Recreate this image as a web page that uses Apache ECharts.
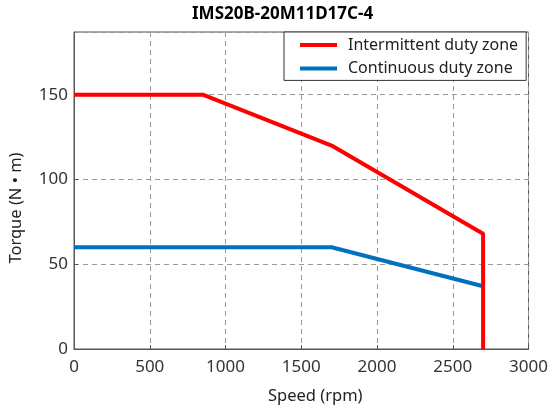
<!DOCTYPE html>
<html>
<head>
<meta charset="utf-8">
<script src="https://cdn.jsdelivr.net/npm/echarts@6/dist/echarts.min.js"></script>
<style>
  html, body { margin: 0; padding: 0; background: #fff; }
  #chart { width: 551px; height: 410px; }
</style>
</head>
<body>
<div id="chart"></div>
<script>
  // 数据：转速 (rpm) / 扭矩 (N·m)
  var seriesNames = ['Intermittent duty zone', 'Continuous duty zone'];
  var intermittentSpeed = [0, 850, 1700, 2700, 2700];
  var intermittentTorque = [150, 150, 120, 68, 0];
  var continuousSpeed = [0, 1700, 2700];
  var continuousTorque = [60, 60, 37];

  function pairs(xs, ys) {
    return xs.map(function (x, i) { return [x, ys[i]]; });
  }

  var font = '"Noto Sans", "Open Sans", sans-serif';
  var chart = echarts.init(document.getElementById('chart'));
  chart.setOption({
    animation: false,
    textStyle: { fontFamily: font },
    title: {
      text: 'IMS20B-20M11D17C-4',
      left: 192,
      top: 6,
      padding: 0,
      textStyle: { fontSize: 17, fontWeight: 'bold', color: '#000', fontFamily: font }
    },
    legend: {
      orient: 'vertical',
      left: 284,
      top: 32,
      padding: [5, 8, 4, 16],
      itemGap: 7.4,
      itemWidth: 37,
      itemHeight: 4,
      icon: 'rect',
      borderColor: '#333',
      borderWidth: 1,
      borderRadius: 0,
      backgroundColor: '#fff',
      textStyle: { fontSize: 16, lineHeight: 16, color: '#222', fontFamily: font, padding: [0, 0, 0, 6] },
      data: seriesNames
    },
    grid: {
      left: 74, right: 21, top: 32, bottom: 60,
      show: true,
      borderColor: '#555',
      borderWidth: 1
    },
    xAxis: {
      type: 'value',
      min: 0, max: 3000, interval: 500,
      name: 'Speed (rpm)',
      nameLocation: 'middle',
      nameGap: 39,
      nameTextStyle: { fontSize: 16.5, color: '#222', padding: [0, 0, 0, 28] },
      axisLine: { lineStyle: { color: '#555' } },
      axisTick: { inside: true, length: 4, lineStyle: { color: '#555' } },
      axisLabel: { fontSize: 17, color: '#333', margin: 10, formatter: function (v) { return String(v); } },
      splitLine: { show: true, lineStyle: { color: '#999', type: [5, 4] } }
    },
    yAxis: {
      type: 'value',
      min: 0, max: 187, interval: 50,
      name: 'Torque (N • m)',
      nameLocation: 'middle',
      nameGap: 49,
      nameTextStyle: { fontSize: 16.5, color: '#222', padding: [0, 35, 0, 0] },
      axisLine: { show: true, lineStyle: { color: '#555' } },
      axisTick: { show: true, inside: true, length: 4, lineStyle: { color: '#555' } },
      axisLabel: { fontSize: 17, color: '#333', margin: 6, showMaxLabel: false },
      splitLine: { show: true, lineStyle: { color: '#999', type: [5, 4] } }
    },
    series: [
      {
        name: seriesNames[0],
        type: 'line',
        data: pairs(intermittentSpeed, intermittentTorque),
        showSymbol: false,
        lineStyle: { color: '#ff0000', width: 4 },
        itemStyle: { color: '#ff0000' },
        z: 3
      },
      {
        name: seriesNames[1],
        type: 'line',
        data: pairs(continuousSpeed, continuousTorque),
        showSymbol: false,
        lineStyle: { color: '#0072bd', width: 4 },
        itemStyle: { color: '#0072bd' },
        z: 2
      }
    ]
  });
</script>
</body>
</html>
